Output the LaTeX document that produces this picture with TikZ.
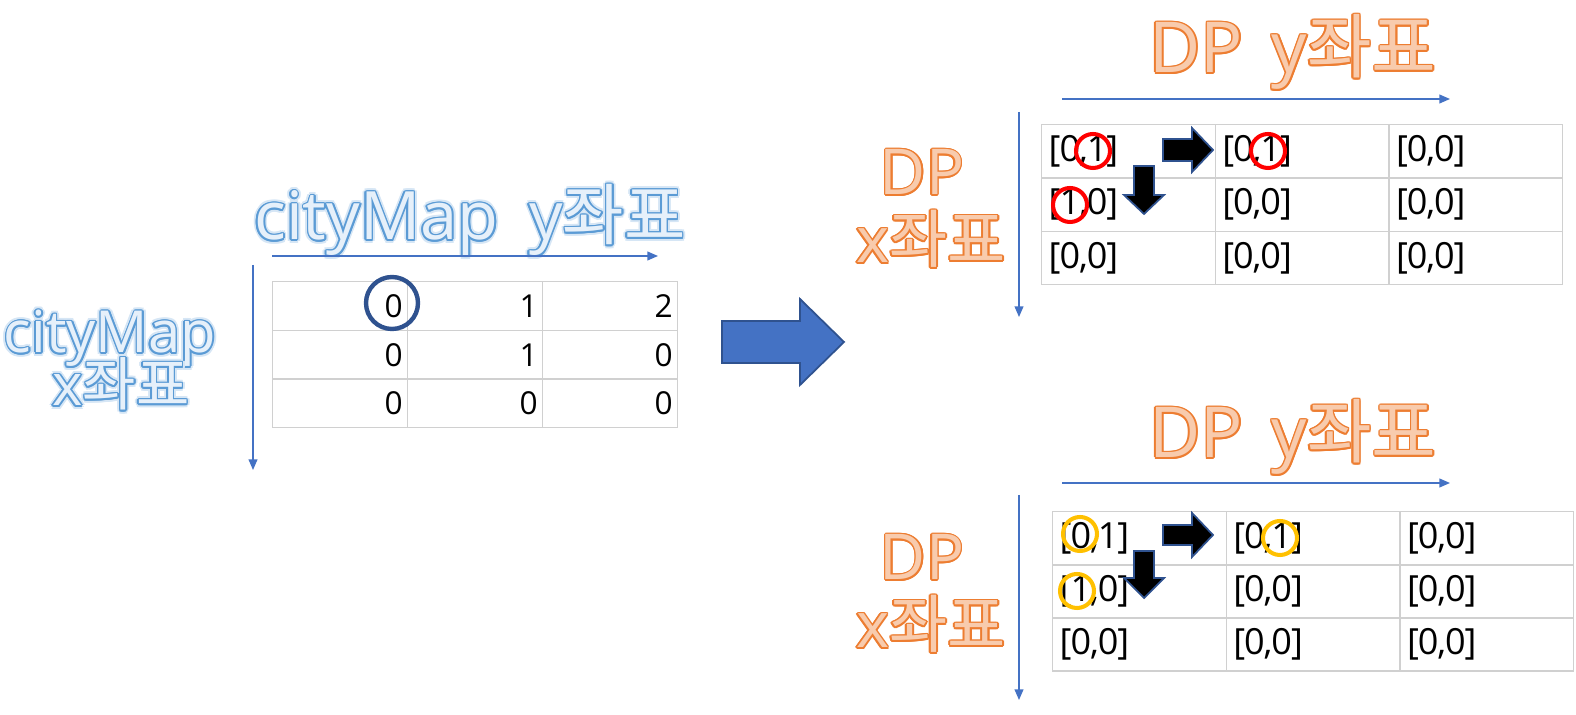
\documentclass[tikz,border=0pt]{standalone}
\usepackage{fontspec}
\setmainfont{Open Sans}
\newfontfamily\korfont{Noto Sans CJK KR}
\newfontfamily\cellfont[LetterSpace=-3]{Open Sans}
\usetikzlibrary{arrows.meta}

\definecolor{axisblue}{HTML}{4472C4}
\definecolor{edgeblue}{HTML}{2F528F}
\definecolor{gridgray}{HTML}{D0D0D0}
\definecolor{ringred}{HTML}{FF0000}
\definecolor{ringgold}{HTML}{FFC000}
\definecolor{lblblue}{HTML}{5B9BD5}
\definecolor{lblbluefill}{HTML}{E6F0FA}
\definecolor{lblorange}{HTML}{ED7D31}
\definecolor{lblorangefill}{HTML}{F8CBAD}

% outlined label: opts, name, position, text, outline, fill, glow
\newcommand{\glowlabel}[7]{%
  \foreach \a in {0,30,...,330}
    \node[lbl, #1, text=#7, shift={(\a:3.6)}] at #3 {#4};
  \foreach \a in {0,30,...,330}
    \node[lbl, #1, text=#5, shift={(\a:1.7)}] at #3 {#4};
  \node[lbl, #1, text=#6] (#2) at #3 {#4};
}
\newcommand{\ko}[1]{{\korfont #1}}

\tikzset{
  axis/.style={draw=axisblue, line width=0.75pt, -{Triangle[length=6pt,width=5pt]}},
  lbl/.style={inner sep=0pt, anchor=base},
  cmcell/.style={draw=gridgray, line width=0.8pt, minimum width=2.7cm,
    minimum height=0.974cm, text width=2.5cm, align=right, inner xsep=0.1cm,
    inner ysep=0pt, anchor=north west, font=\fontsize{18}{18}\selectfont},
  dpcell/.style={draw=gridgray, line width=0.8pt, minimum width=3.474cm,
    minimum height=1.066cm, text width=3.194cm, align=left, inner xsep=0.14cm,
    inner ysep=0pt, anchor=north west, font=\cellfont\fontsize{20.5}{20.5}\selectfont},
  ring/.style={circle, inner sep=0pt, minimum size=0.68cm, line width=2.3pt},
  blkarrow/.style={fill=black, draw=edgeblue, line width=1pt},
}

\begin{document}
\begin{tikzpicture}[x=0.02cm, y=-0.02cm]
\useasboundingbox (0,0) rectangle (1576,715);

%%% cityMap side
\glowlabel{font=\fontsize{38}{38}\selectfont}{cm-ylbl}{(470,240)}{cityMap\hspace{0.2em} y\ko{좌표}}{lblblue}{lblbluefill}{lblblue!25}
\glowlabel{font=\fontsize{33}{33}\selectfont}{cm-xlbl1}{(110,353)}{cityMap}{lblblue}{lblbluefill}{lblblue!25}
\glowlabel{font=\fontsize{33}{33}\selectfont}{cm-xlbl2}{(121,406)}{x\ko{좌표}}{lblblue}{lblbluefill}{lblblue!25}

\coordinate (cm-y0) at (272,256);
\coordinate (cm-y1) at (658,256);
\coordinate (cm-x0) at (253,265);
\coordinate (cm-x1) at (253,470);
\draw[axis] (cm-y0) -- (cm-y1);
\draw[axis] (cm-x0) -- (cm-x1);

\foreach \v [count=\i from 0] in {0,1,2,0,1,0,0,0,0}{
  \pgfmathtruncatemacro{\r}{\i/3}
  \pgfmathtruncatemacro{\c}{mod(\i,3)}
  \node[cmcell] (cm-\r-\c) at ({272+135*\c},{281+48.7*\r}) {\v};
}

\node[ring, draw=edgeblue, line width=2.5pt, minimum size=1.04cm] (cm-start) at (392,303) {};

%%% big arrow
\draw[fill=axisblue, draw=edgeblue, line width=1pt]
  (722,321) -- (800,321) -- (800,299) -- (844,342) -- (800,385) -- (800,363) -- (722,363) -- cycle;

%%% DP, red
\glowlabel{font=\fontsize{40}{40}\selectfont}{dpa-ylbl}{(1293,73)}{DP\hspace{0.15em} y\ko{좌표}}{lblorange}{lblorangefill}{white}
\glowlabel{font=\fontsize{36}{36}\selectfont}{dpa-xlbl1}{(922,195)}{DP}{lblorange}{lblorangefill}{white}
\glowlabel{font=\fontsize{36}{36}\selectfont}{dpa-xlbl2}{(931,263)}{x\ko{좌표}}{lblorange}{lblorangefill}{white}

\coordinate (dpa-y0) at (1062,99);
\coordinate (dpa-y1) at (1450,99);
\coordinate (dpa-x0) at (1019,112);
\coordinate (dpa-x1) at (1019,317);
\draw[axis] (dpa-y0) -- (dpa-y1);
\draw[axis] (dpa-x0) -- (dpa-x1);

\foreach \p/\q [count=\i from 0] in {0/1,0/1,0/0,1/0,0/0,0/0,0/0,0/0,0/0}{
  \pgfmathtruncatemacro{\r}{\i/3}
  \pgfmathtruncatemacro{\c}{mod(\i,3)}
  \node[dpcell] (dpa-\r-\c) at ({1041+173.7*\c},{124+53.3*\r}) {[\p,\q]};
}

\node[ring, draw=ringred] (dpa-r1) at (1093,151) {};
\node[ring, draw=ringred] (dpa-r2) at (1268,151) {};
\node[ring, draw=ringred] (dpa-r3) at (1070,205) {};

\draw[blkarrow, shift={(1163,150)}]
  (0,-11) -- (29,-11) -- (29,-22) -- (50,0) -- (29,22) -- (29,11) -- (0,11) -- cycle;
\draw[blkarrow, shift={(1144,166)}]
  (-10,0) -- (10,0) -- (10,29) -- (20,29) -- (0,48) -- (-20,29) -- (-10,29) -- cycle;

%%% DP, gold
\glowlabel{font=\fontsize{40}{40}\selectfont}{dpb-ylbl}{(1293,458)}{DP\hspace{0.15em} y\ko{좌표}}{lblorange}{lblorangefill}{white}
\glowlabel{font=\fontsize{36}{36}\selectfont}{dpb-xlbl1}{(922,580)}{DP}{lblorange}{lblorangefill}{white}
\glowlabel{font=\fontsize{36}{36}\selectfont}{dpb-xlbl2}{(931,648)}{x\ko{좌표}}{lblorange}{lblorangefill}{white}

\coordinate (dpb-y0) at (1062,483);
\coordinate (dpb-y1) at (1450,483);
\coordinate (dpb-x0) at (1019,495);
\coordinate (dpb-x1) at (1019,700);
\draw[axis] (dpb-y0) -- (dpb-y1);
\draw[axis] (dpb-x0) -- (dpb-x1);

\foreach \p/\q [count=\i from 0] in {0/1,0/1,0/0,1/0,0/0,0/0,0/0,0/0,0/0}{
  \pgfmathtruncatemacro{\r}{\i/3}
  \pgfmathtruncatemacro{\c}{mod(\i,3)}
  \node[dpcell] (dpb-\r-\c) at ({1052+173.7*\c},{511+53*\r}) {[\p,\q]};
}

\node[ring, draw=ringgold] (dpb-r1) at (1080,534) {};
\node[ring, draw=ringgold] (dpb-r2) at (1280,538) {};
\node[ring, draw=ringgold] (dpb-r3) at (1077,591) {};

\draw[blkarrow, shift={(1163,535)}]
  (0,-10) -- (29,-10) -- (29,-22) -- (50,0) -- (29,22) -- (29,10) -- (0,10) -- cycle;
\draw[blkarrow, shift={(1144,551)}]
  (-10,0) -- (10,0) -- (10,27) -- (20,27) -- (0,47) -- (-20,27) -- (-10,27) -- cycle;

\end{tikzpicture}
\end{document}
